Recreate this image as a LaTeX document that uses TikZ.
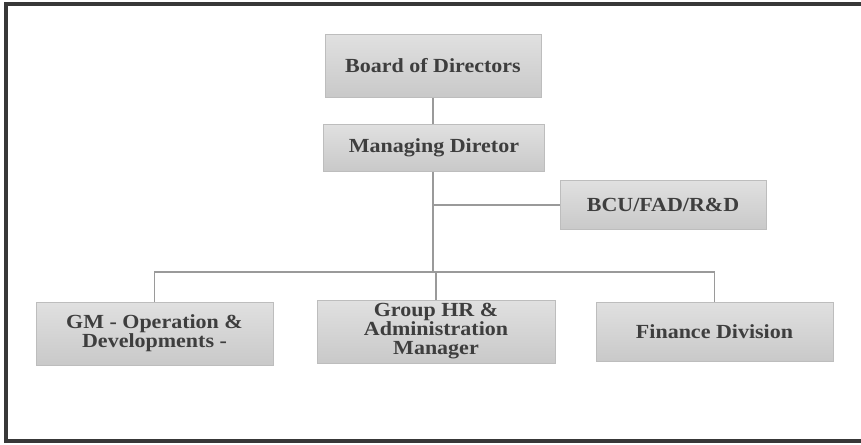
\documentclass[tikz,border=0pt]{standalone}
\usepackage{fontspec}
\setmainfont{Liberation Serif}[FakeStretch=1.1]
\usepackage{tikz}
\usepackage{xcolor}
\usetikzlibrary{calc, positioning}
\definecolor{boxtop}{HTML}{E0E0E0}
\definecolor{boxbot}{HTML}{C9C9C9}
\definecolor{boxline}{HTML}{BDBDBD}
\definecolor{linkgray}{HTML}{9A9A9A}
\definecolor{txtgray}{HTML}{3E3E3E}
\definecolor{framegray}{HTML}{383838}

\begin{document}
\begin{tikzpicture}[x=1pt, y=-1pt,
                        post/.style={draw=boxline, line width=1pt, top color=boxtop, bottom color=boxbot,
                            text=txtgray, align=center, inner sep=0pt,
                            font=\fontsize{20}{19}\selectfont\bfseries},
                        link/.style={draw=linkgray, line width=1.4pt}]
                        \useasboundingbox (0, 0) rectangle (861, 444);
                        \draw[framegray, line width=3.5pt] (861, 4) -- (6, 4) -- (6, 441) -- (861, 441);
                        \node[post, minimum width=216, minimum height=62] (bod) at (433, 66) {Board of Directors};
                        \node[post, minimum width=221, minimum height=47] (md) at (434, 147.5) {Managing Diretor};
                        \node[post, minimum width=206, minimum height=49] (bcu) at (663, 205) {BCU/FAD/R\&D};
                        \node[post, minimum width=237, minimum height=63] (gm) at (154.5, 333.5) {GM - Operation \&\\Developments -};
                        \node[post, minimum width=238, minimum height=63] (hr) at (436, 331.5) {Group HR \&\\Administration\\Manager};
                        \node[post, minimum width=237, minimum height=59] (fin) at (714.5, 331.5) {Finance Division};
                        \coordinate (j1) at (433, 205);
                        \coordinate (j2) at (433, 272);
                        \draw[link]
                        (bod.south) -- (bod.south |- md.north)
                        (md.south -| j2) -- (j2)
                        (j1) -- (bcu.west)
                        (gm.north) |- (j2) -| (fin.north)
                        (hr.north) -- (hr.north |- j2);
                    \end{tikzpicture}
\end{document}
